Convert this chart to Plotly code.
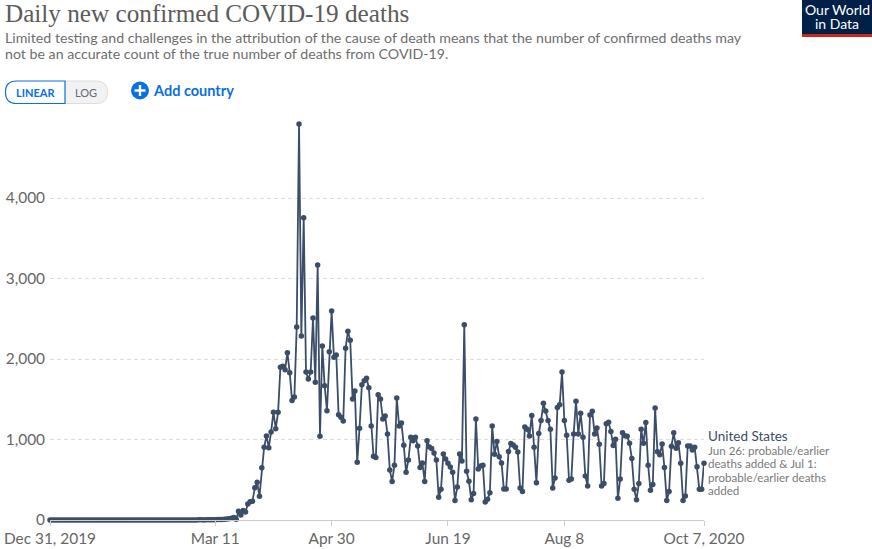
import pandas as pd
import plotly.graph_objects as go

W = 872
H = 549
PLOT_L, PLOT_R, PLOT_T, PLOT_B = 50, 704, 100, 520

# daily values from Dec 31, 2019 to Oct 7, 2020
deaths = [
    0, 0, 0, 0, 0, 0, 0, 0, 0, 0, 0, 0, 0, 0, 0, 0, 0, 0, 0, 0,
    0, 0, 0, 0, 0, 0, 0, 0, 0, 0, 0, 0, 0, 0, 0, 0, 0, 0, 0, 0,
    0, 0, 0, 0, 0, 0, 0, 0, 0, 0, 0, 0, 0, 0, 0, 0, 0, 0, 0, 0,
    0, 1, 1, 0, 3, 2, 1, 2, 2, 3, 4, 3, 7, 5, 5, 8, 12, 16, 23, 30,
    8, 108, 63, 117, 100, 199, 228, 232, 402, 468, 295, 650, 903, 1044, 899, 1094, 1338, 1135, 1338, 1897,
    1909, 1868, 2079, 1830, 1483, 1528, 2398, 4919, 2286, 3755, 1839, 1752, 1839, 2509, 1710, 3168, 1040, 2162, 1669, 1358,
    2091, 2596, 2021, 2050, 1309, 1276, 1230, 2133, 2344, 2232, 1503, 1603, 717, 1139, 1681, 1731, 1760, 1644, 1168, 791,
    775, 1557, 1503, 1255, 1292, 1069, 622, 477, 680, 1516, 1168, 1205, 928, 593, 746, 1028, 986, 1028, 920, 651,
    709, 477, 986, 907, 887, 833, 746, 282, 382, 820, 758, 705, 659, 593, 241, 411, 820, 734, 2427, 605,
    481, 253, 328, 1255, 634, 671, 680, 224, 257, 340, 1168, 816, 974, 787, 709, 386, 386, 850, 949, 932,
    903, 845, 398, 353, 1156, 1127, 1044, 1297, 903, 464, 1073, 1235, 1450, 1355, 1235, 1127, 398, 522, 1396, 1433,
    1839, 1235, 1052, 493, 510, 1069, 1475, 1069, 1326, 1027, 547, 423, 1305, 1350, 1069, 1143, 941, 423, 452, 1197,
    1214, 1098, 924, 1003, 270, 510, 1085, 1048, 1040, 953, 763, 382, 253, 452, 1127, 953, 1210, 680, 369, 440,
    1392, 849, 812, 945, 651, 241, 353, 916, 1085, 891, 961, 705, 241, 299, 920, 920, 870, 903, 663, 382,
    382, 705,
]
dates = pd.date_range("2019-12-31", periods=len(deaths))

x_tick_dates = ["2019-12-31", "2020-03-11", "2020-04-30", "2020-06-19", "2020-08-08", "2020-10-07"]
x_tick_labels = ["Dec 31, 2019", "Mar 11", "Apr 30", "Jun 19", "Aug 8", "Oct 7, 2020"]
y_ticks = [0, 1000, 2000, 3000, 4000]
y_tick_labels = ["0", "1,000", "2,000", "3,000", "4,000"]

LINE = "#3b4d68"
BLUE = "#0a6fe0"


# the page furniture is placed in pixels, so convert to paper coordinates
def xp(px):
    return (px - PLOT_L) / (PLOT_R - PLOT_L)


def yp(py):
    return (PLOT_B - py) / (PLOT_B - PLOT_T)


def label(px, py, text, size, color, font="Lato", anchor="left"):
    # annotations carry about 2px of padding on the left
    if anchor == "left":
        px = px - 2
    return dict(x=xp(px), y=yp(py), xref="paper", yref="paper", text=text, showarrow=False,
                xanchor=anchor, yanchor="middle", align=anchor,
                font=dict(family=font, size=size, color=color))


def rect(x0, y0, x1, y1, fill):
    return dict(type="rect", xref="paper", yref="paper", x0=xp(x0), x1=xp(x1), y0=yp(y0), y1=yp(y1),
                fillcolor=fill, line=dict(width=0), layer="above")


def pill_path(x0, x1, y0, y1, r, side):
    # rounded on one side only, square on the other
    if side == "left":
        pts = f"M{xp(x1)},{yp(y0)} L{xp(x0 + r)},{yp(y0)} Q{xp(x0)},{yp(y0)} {xp(x0)},{yp(y0 + r)} " \
              f"Q{xp(x0)},{yp(y1)} {xp(x0 + r)},{yp(y1)} L{xp(x1)},{yp(y1)} Z"
    else:
        pts = f"M{xp(x0)},{yp(y0)} L{xp(x1 - r)},{yp(y0)} Q{xp(x1)},{yp(y0)} {xp(x1)},{yp(y0 + r)} " \
              f"Q{xp(x1)},{yp(y1)} {xp(x1 - r)},{yp(y1)} L{xp(x0)},{yp(y1)} Z"
    return pts


fig = go.Figure()
fig.add_trace(go.Scatter(x=dates, y=deaths, mode="lines+markers", cliponaxis=False,
                         line=dict(color=LINE, width=1.8),
                         marker=dict(color=LINE, size=5.5), hoverinfo="x+y", showlegend=False))

shapes = [
    rect(802, 0, 872, 34, "#002147"),
    rect(802, 34, 872, 37, "#ce261e"),
    dict(type="path", xref="paper", yref="paper", path=pill_path(65, 107.5, 81, 103.5, 11, "right"),
         fillcolor="#f2f2f2", line=dict(color="#dddddd", width=1), layer="above"),
    dict(type="path", xref="paper", yref="paper", path=pill_path(5.5, 65, 81, 103.5, 11, "left"),
         fillcolor="#ffffff", line=dict(color=BLUE, width=1.2), layer="above"),
    dict(type="circle", xref="paper", yref="paper", x0=xp(131), x1=xp(149), y0=yp(81.5), y1=yp(99.5),
         fillcolor=BLUE, line=dict(width=0), layer="above"),
    rect(134.5, 89.3, 145.5, 91.7, "#ffffff"),
    rect(138.8, 85, 141.2, 96, "#ffffff"),
]

annotations = [
    label(5, 13.5, "Daily new confirmed COVID-19 deaths", 25.2, "#5b5b5b", font="Liberation Serif"),
    label(5, 37, "Limited testing and challenges in the attribution of the cause of death means that the number of confirmed deaths may", 14.2, "#6e6e6e"),
    label(5, 54, "not be an accurate count of the true number of deaths from COVID-19.", 14.2, "#6e6e6e"),
    label(35, 92.5, "<b>LINEAR</b>", 11, BLUE, anchor="center"),
    label(86, 92.5, "LOG", 11, "#5f6b7a", anchor="center"),
    label(152.5, 90, "<b>Add country</b>", 14.5, BLUE),
    label(837, 9.5, "Our World", 14, "#ffffff", anchor="center"),
    label(837, 23.5, "in Data", 14, "#ffffff", anchor="center"),
    label(708, 436, "United States", 13.5, LINE),
    label(708, 450, "Jun 26: probable/earlier", 11.6, "#7a7a7a"),
    label(708, 463.5, "deaths added &amp; Jul 1:", 11.6, "#7a7a7a"),
    label(708, 477, "probable/earlier deaths", 11.6, "#7a7a7a"),
    label(708, 490.5, "added", 11.6, "#7a7a7a"),
]

fig.update_layout(
    width=W, height=H,
    margin=dict(l=PLOT_L, r=W - PLOT_R, t=PLOT_T, b=H - PLOT_B, autoexpand=False),
    paper_bgcolor="#ffffff", plot_bgcolor="#ffffff",
    font=dict(family="Lato", color="#666666"),
    shapes=shapes, annotations=annotations,
    xaxis=dict(type="date", range=["2019-12-31", "2020-10-07"], tickmode="array",
               tickvals=x_tick_dates, ticktext=x_tick_labels, showgrid=False, zeroline=False,
               showline=True, linecolor="#cccccc", linewidth=1, ticks="outside", ticklen=5,
               tickcolor="#cccccc", tickfont=dict(size=15.4, color="#666666")),
    yaxis=dict(range=[0, 420 / 0.0805], tickmode="array", tickvals=y_ticks, ticktext=y_tick_labels,
               showgrid=True, gridcolor="#dddddd", griddash="4px,3px", gridwidth=1, zeroline=False,
               showline=False, ticks="", ticklabelstandoff=4, tickfont=dict(size=15.4, color="#666666")),
)

fig.write_html("out.html", config={"displayModeBar": False},
               post_script="document.body.style.margin='0';")
